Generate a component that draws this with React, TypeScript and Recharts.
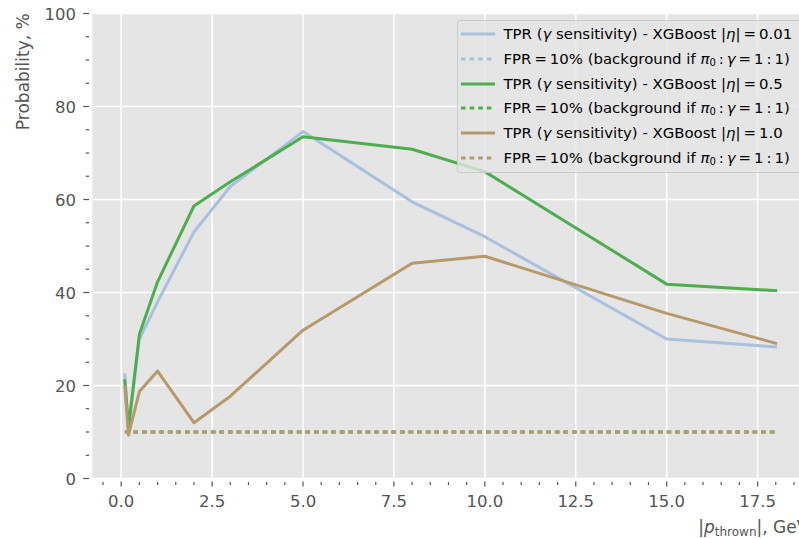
import React from "react"
import { LineChart, Line, XAxis, YAxis, CartesianGrid, Legend } from "recharts"

// |p_thrown| in GeV
const pThrown = [0.1, 0.2, 0.5, 1, 2, 3, 5, 8, 10, 15, 18]
// TPR (gamma sensitivity), %
const tprEta001 = [22.3, 10.5, 30.0, 38.0, 53.0, 62.8, 74.6, 59.5, 52.0, 30.0, 28.3]
const tprEta05 = [21.0, 11.0, 31.0, 42.3, 58.6, 63.8, 73.5, 70.8, 66.0, 41.8, 40.4]
const tprEta10 = [19.7, 9.3, 18.7, 23.1, 12.0, 17.7, 31.9, 46.3, 47.8, 35.5, 29.1]
// FPR working point, %
const fprLevel = [10, 10, 10, 10, 10, 10, 10, 10, 10, 10, 10]

const xMajorTicks = [0, 2.5, 5, 7.5, 10, 12.5, 15, 17.5]
const yMajorTicks = [0, 20, 40, 60, 80, 100]

const xTicks: number[] = []
for (let v = -0.5; v <= 18.51; v += 0.5) xTicks.push(Math.round(v * 10) / 10)
const yTicks: number[] = []
for (let v = 0; v <= 100; v += 5) yTicks.push(v)

const data = pThrown.map((p, i) => ({
  p,
  tpr001: tprEta001[i],
  fpr001: fprLevel[i],
  tpr05: tprEta05[i],
  fpr05: fprLevel[i],
  tpr10: tprEta10[i],
  fpr10: fprLevel[i],
}))

const BLUE = "#a7c1de"
const GREEN = "#4cae4c"
const BROWN = "#b8996a"
const DOTS = "4.6 4"

const CHART_W = 830
const CHART_H = 538
const PLOT_LEFT = 92.3
const PLOT_TOP = 13.5
const PLOT_BOTTOM = 478.5
const PLOT_RIGHT = 808.3
const X_MIN = -0.795
const X_MAX = 18.895
const X_AXIS_H = 30

const TICK = "#555555"

const series = [
  { key: "tpr001", color: BLUE, dotted: false, eta: "0.01" },
  { key: "fpr001", color: BLUE, dotted: true, eta: "" },
  { key: "tpr05", color: GREEN, dotted: false, eta: "0.5" },
  { key: "fpr05", color: GREEN, dotted: true, eta: "" },
  { key: "tpr10", color: BROWN, dotted: false, eta: "1.0" },
  { key: "fpr10", color: BROWN, dotted: true, eta: "" },
]

const isMajor = (v: number, step: number) => Math.abs(v / step - Math.round(v / step)) < 1e-6

const XTick = (props: any) => {
  const { x, y, payload } = props
  const v = payload.value
  const major = isMajor(v, 2.5)
  return (
    <g>
      <line x1={x} x2={x} y1={y + (major ? 3 : 3.5)} y2={y + (major ? 8 : 6.5)} stroke={TICK} strokeWidth={1.2} />
      {major && (
        <text x={x} y={y + 28.5} textAnchor="middle" fill={TICK} fontSize={16.5}>
          {v.toFixed(1)}
        </text>
      )}
    </g>
  )
}

const YTick = (props: any) => {
  const { x, y, payload } = props
  const v = payload.value
  const major = isMajor(v, 20)
  return (
    <g>
      <line x1={x - (major ? 9 : 6.6)} x2={x - 3.2} y1={y} y2={y} stroke={TICK} strokeWidth={1.2} />
      {major && (
        <text x={x - 16.3} y={y + 6} textAnchor="end" fill={TICK} fontSize={16.5}>
          {v}
        </text>
      )}
    </g>
  )
}

const YLabel = () => (
  <text x={29} y={13.3} transform="rotate(-90 29 13.3)" textAnchor="end" fill={TICK} fontSize={17}>
    Probability, %
  </text>
)

const XLabel = () => (
  <text x={PLOT_RIGHT} y={533.3} textAnchor="end" fill={TICK} fontSize={17}>
    |<tspan fontStyle="italic">p</tspan>
    <tspan fontSize={12} dy={3}>thrown</tspan>
    <tspan dy={-3}>|, GeV</tspan>
  </text>
)

const LegendLabel = ({ dotted, eta }: { dotted: boolean; eta: string }) =>
  dotted ? (
    <span>
      FPR{"\u2009"}={"\u2009"}10% (background if <i>π</i>
      <sub style={{ fontSize: 10, verticalAlign: "-2px" }}>0</sub>
      {"\u2009"}:{"\u2009"}
      <i>γ</i>
      {"\u2009"}={"\u2009"}1{"\u2009"}:{"\u2009"}1)
    </span>
  ) : (
    <span>
      TPR (<i>γ</i> sensitivity) - XGBoost |<i>η</i>|{"\u2009"}={"\u2009"}
      {eta}
    </span>
  )

const LegendBox = () => (
  <div
    style={{
      background: "rgba(229,229,229,0.8)",
      border: "1px solid #cccccc",
      borderRadius: 3,
      padding: "1px 10px 2px 3px",
      fontSize: 14.9,
      color: "#000",
      whiteSpace: "nowrap",
      fontFamily: '"DejaVu Sans", sans-serif',
    }}
  >
    {series.map((s) => (
      <div key={s.key} style={{ display: "flex", alignItems: "center", height: 24.68 }}>
        <svg width={34} height={6} style={{ marginRight: 9 }}>
          <line
            x1={0}
            x2={34}
            y1={3}
            y2={3}
            stroke={s.color}
            strokeWidth={3}
            strokeDasharray={s.dotted ? DOTS : undefined}
          />
        </svg>
        <LegendLabel dotted={s.dotted} eta={s.eta} />
      </div>
    ))}
  </div>
)

export default function App() {
  return (
    <div
      style={{
        position: "fixed",
        left: 0,
        top: 0,
        width: 799,
        height: 538,
        overflow: "hidden",
        background: "#fff",
        fontFamily: '"DejaVu Sans", sans-serif',
      }}
    >
      <LineChart
        width={CHART_W}
        height={CHART_H}
        data={data}
        margin={{
          top: PLOT_TOP,
          right: CHART_W - PLOT_RIGHT,
          left: 0,
          bottom: CHART_H - PLOT_BOTTOM - X_AXIS_H,
        }}
      >
        <CartesianGrid
          fill="#e5e5e5"
          stroke="#ffffff"
          strokeWidth={1.5}
          verticalCoordinatesGenerator={({ offset }: any) =>
            xMajorTicks.map((v) => offset.left + ((v - X_MIN) / (X_MAX - X_MIN)) * offset.width)
          }
          horizontalCoordinatesGenerator={({ offset }: any) =>
            yMajorTicks.map((v) => offset.top + (1 - v / 100) * offset.height)
          }
        />
        <XAxis
          type="number"
          dataKey="p"
          domain={[X_MIN, X_MAX]}
          allowDataOverflow
          ticks={xTicks}
          interval={0}
          tick={<XTick />}
          tickLine={false}
          axisLine={false}
          tickSize={0}
          tickMargin={0}
          height={X_AXIS_H}
          label={{ content: () => <XLabel /> }}
        />
        <YAxis
          type="number"
          domain={[0, 100]}
          allowDataOverflow
          ticks={yTicks}
          interval={0}
          tick={<YTick />}
          tickLine={false}
          axisLine={false}
          tickSize={0}
          tickMargin={0}
          width={PLOT_LEFT}
          label={{ content: () => <YLabel /> }}
        />
        {series.map((s) => (
          <Line
            key={s.key}
            type="linear"
            dataKey={s.key}
            stroke={s.color}
            strokeWidth={3}
            strokeDasharray={s.dotted ? DOTS : undefined}
            strokeLinejoin="round"
            strokeLinecap={s.dotted ? "butt" : "square"}
            dot={false}
            activeDot={false}
            isAnimationActive={false}
          />
        ))}
        <Legend
          layout="vertical"
          align="center"
          verticalAlign="middle"
          wrapperStyle={{ left: 456.5, top: 20, width: "auto", height: "auto" }}
          content={() => <LegendBox />}
        />
      </LineChart>
    </div>
  )
}
